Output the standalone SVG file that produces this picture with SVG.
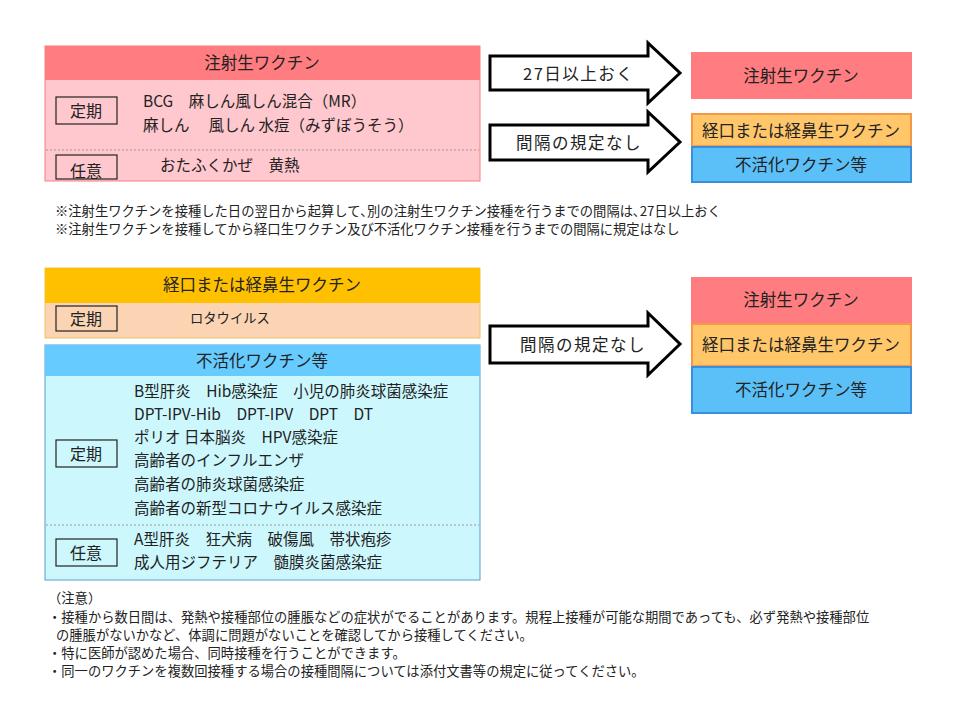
<svg xmlns="http://www.w3.org/2000/svg" width="960" height="720" viewBox="0 0 960 720">
<style>
text{font-family:"Noto Sans CJK JP","Noto Sans CJK SC",sans-serif;fill:#222}
.t{font-size:15.5px}
.g{font-size:16px;text-anchor:middle}
.h{font-size:16.5px;text-anchor:middle}
.n{font-size:13.3px}
.a{font-size:16.5px;letter-spacing:1.5px}
.tag{fill:none;stroke:#222;stroke-width:1.2}
.div{stroke:#999;stroke-dasharray:2 2;stroke-width:1}
.arr{fill:#fff;stroke:#000;stroke-width:3;stroke-linejoin:miter}
</style>
<rect width="960" height="720" fill="#fff"/>
<g id="live">
<rect x="45" y="46" width="435" height="135" fill="#ffc7ce" stroke="#f08080"/>
<rect x="45" y="46" width="435" height="34" fill="#ff7c80"/>
<text class="h" x="262" y="69">注射生ワクチン</text>
<line class="div" x1="46" y1="150" x2="479" y2="150"/>
<rect class="tag" x="56" y="97" width="61" height="27"/>
<text class="g" x="86" y="117">定期</text>
<text class="t" x="143" y="107">BCG　麻しん風しん混合（MR）</text>
<text class="t" x="143" y="131">麻しん　 風しん  水痘（みずぼうそう）</text>
<rect class="tag" x="56" y="155" width="61" height="24"/>
<text class="g" x="86" y="177">任意</text>
<text class="t" x="160" y="171">おたふくかぜ　黄熱</text>
</g>
<g id="notes1">
<text class="n" x="55" y="216">※注射生ワクチンを接種した日の翌日から起算して､別の注射生ワクチン接種を行うまでの間隔は､27日以上おく</text>
<text class="n" x="55" y="234">※注射生ワクチンを接種してから経口生ワクチン及び不活化ワクチン接種を行うまでの間隔に規定はなし</text>
</g>
<g id="connectors">
<path class="arr" d="M490,56 H648 V43 L680,73 L648,103 V90 H490 Z"/>
<path class="arr" d="M490,125 H648 V112 L680,142 L648,172 V160 H490 Z"/>
<path class="arr" d="M490,326 H648 V313 L680,344 L648,375 V363 H490 Z"/>
<text class="a" x="523" y="80">27日以上おく</text>
<text class="a" x="516" y="149">間隔の規定なし</text>
<text class="a" x="520" y="351">間隔の規定なし</text>
</g>
<g id="r1">
<rect x="691" y="52" width="221" height="47" fill="#ff7c80"/>
<text class="h" x="801" y="82">注射生ワクチン</text>
<rect x="692" y="114" width="219" height="32" fill="#ffc66a" stroke="#f79646" stroke-width="2"/>
<text class="h" x="801" y="137">経口または経鼻生ワクチン</text>
<rect x="692" y="147" width="219" height="35" fill="#5bc0f8" stroke="#3a8fdd" stroke-width="2"/>
<text class="h" x="801" y="171">不活化ワクチン等</text>
</g>
<g id="oral">
<rect x="45" y="268" width="435" height="70" fill="#fbd4b4" stroke="#f0c060"/>
<rect x="45" y="268" width="435" height="35" fill="#ffc000"/>
<text class="h" x="262" y="291">経口または経鼻生ワクチン</text>
<rect class="tag" x="56" y="306" width="61" height="25"/>
<text class="g" x="86" y="325">定期</text>
<text class="n" x="190" y="323">ロタウイルス</text>
</g>
<g id="inact">
<rect x="45" y="345" width="435" height="235" fill="#ccf7fd" stroke="#5b9bd5"/>
<rect x="45" y="345" width="435" height="31" fill="#66ccff"/>
<text class="h" x="262" y="367">不活化ワクチン等</text>
<line class="div" x1="46" y1="525" x2="479" y2="525"/>
<rect class="tag" x="56" y="440" width="61" height="27"/>
<text class="g" x="86" y="460">定期</text>
<text class="t" x="134" y="397">B型肝炎　Hib感染症　小児の肺炎球菌感染症</text>
<text class="t" x="134" y="420">DPT-IPV-Hib　DPT-IPV　DPT　DT</text>
<text class="t" x="134" y="443">ポリオ  日本脳炎　HPV感染症</text>
<text class="t" x="134" y="466">高齢者のインフルエンザ</text>
<text class="t" x="134" y="490">高齢者の肺炎球菌感染症</text>
<text class="t" x="134" y="514">高齢者の新型コロナウイルス感染症</text>
<rect class="tag" x="56" y="539" width="61" height="27"/>
<text class="g" x="86" y="559">任意</text>
<text class="t" x="134" y="545">A型肝炎　狂犬病　破傷風　帯状疱疹</text>
<text class="t" x="134" y="568">成人用ジフテリア　髄膜炎菌感染症</text>
</g>
<g id="r2">
<rect x="691" y="277" width="221" height="46" fill="#ff7c80"/>
<text class="h" x="801" y="306">注射生ワクチン</text>
<rect x="692" y="324" width="219" height="42" fill="#ffc66a" stroke="#f79646" stroke-width="2"/>
<text class="h" x="801" y="351">経口または経鼻生ワクチン</text>
<rect x="692" y="367" width="219" height="46" fill="#5bc0f8" stroke="#3a8fdd" stroke-width="2"/>
<text class="h" x="801" y="396">不活化ワクチン等</text>
</g>
<g id="notes2">
<text class="n" x="48" y="603">（注意）</text>
<text class="n" x="48" y="622">・接種から数日間は、発熱や接種部位の腫脹などの症状がでることがあります。規程上接種が可能な期間であっても、必ず発熱や接種部位</text>
<text class="n" x="56" y="640">の腫脹がないかなど、体調に問題がないことを確認してから接種してください。</text>
<text class="n" x="48" y="658">・特に医師が認めた場合、同時接種を行うことができます。</text>
<text class="n" x="48" y="676">・同一のワクチンを複数回接種する場合の接種間隔については添付文書等の規定に従ってください。</text>
</g>
</svg>
